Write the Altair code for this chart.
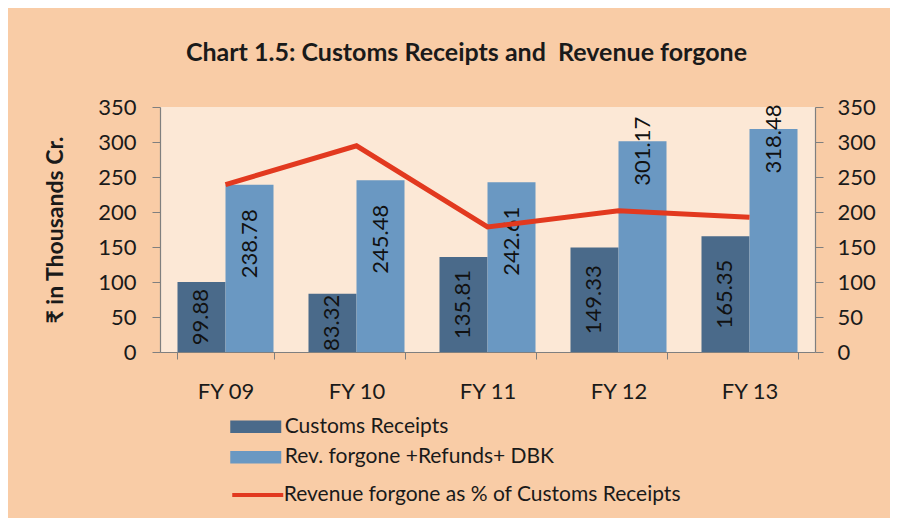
import altair as alt
import pandas as pd

years = ["FY 09", "FY 10", "FY 11", "FY 12", "FY 13"]
customs = [99.88, 83.32, 135.81, 149.33, 165.35]
forgone = [238.78, 245.48, 242.61, 301.17, 318.48]
pct = [239.1, 294.6, 178.6, 201.7, 192.6]
series = ["Customs Receipts", "Rev. forgone +Refunds+ DBK"]
line_name = "Revenue forgone as % of Customs Receipts"
title_text = "Chart 1.5: Customs Receipts and\u00a0 Revenue forgone"
y_title = "₹ in Thousands Cr."
y_ticks = [0, 50, 100, 150, 200, 250, 300, 350]

FONT = "Lato"
bars_df = pd.DataFrame(
    [{"fy": y, "series": series[0], "value": v} for y, v in zip(years, customs)]
    + [{"fy": y, "series": series[1], "value": v} for y, v in zip(years, forgone)]
)
line_df = pd.DataFrame({"fy": years, "pct": pct, "name": line_name})

x_enc = alt.X(
    "fy:N",
    sort=years,
    scale=alt.Scale(paddingInner=0.267, paddingOuter=0.1335),
    axis=alt.Axis(
        title=None, labelAngle=0, labelFontSize=22, labelFont=FONT, labelColor="#1a1a1a",
        tickBand="extent", tickSize=7, tickColor="#7f7f7f", domainColor="#7f7f7f",
        labelPadding=22, domainWidth=1.2,
    ),
)
xoff = alt.XOffset("series:N", sort=series, scale=alt.Scale(paddingInner=0, paddingOuter=0))
y_scale = alt.Scale(domain=[0, 350])
y_axis = alt.Axis(
    values=y_ticks, grid=False, labelOverlap=False,
    labelFontSize=22, labelFont=FONT, labelColor="#1a1a1a", labelPadding=16,
    tickSize=8, tickColor="#7f7f7f", domainColor="#7f7f7f", domainWidth=1.2,
    titleFont=FONT, titleFontSize=23, titleFontWeight="bold",
    titleColor="#1a1a1a", titlePadding=30,
)

bars = alt.Chart(bars_df).mark_bar().encode(
    x=x_enc,
    xOffset=xoff,
    y=alt.Y("value:Q", scale=y_scale, title=y_title, axis=y_axis),
    color=alt.Color(
        "series:N",
        scale=alt.Scale(domain=series, range=["#4A6A8A", "#6A98C2"]),
        legend=alt.Legend(
            title=None, orient="none", legendX=82.75, legendY=306.75,
            symbolType="M-2,-0.5H2V0.5H-2Z", symbolSize=650, symbolStrokeWidth=0,
            symbolOpacity=1, labelOffset=16, rowPadding=7.5, padding=0,
            labelFont=FONT, labelFontSize=21, labelColor="#1a1a1a", labelLimit=600,
        ),
    ),
)

lab_dark = alt.Chart(bars_df).transform_filter(
    alt.datum.series == series[0]
).transform_calculate(mid="datum.value / 2").mark_text(
    angle=270, align="center", baseline="middle", font=FONT, fontSize=22, color="#111"
).encode(
    x=alt.X("fy:N", sort=years),
    xOffset=xoff,
    y=alt.Y("mid:Q", scale=y_scale, title=y_title, axis=y_axis),
    text=alt.Text("value:Q", format=".2f"),
)

lab_light = alt.Chart(bars_df).transform_filter(
    alt.datum.series == series[1]
).transform_calculate(top="datum.value < 300 ? datum.value - 35 : datum.value + 35").mark_text(
    angle=270, align="right", baseline="middle", font=FONT, fontSize=22, color="#111", clip=False
).encode(
    x=alt.X("fy:N", sort=years),
    xOffset=xoff,
    y=alt.Y("top:Q", scale=y_scale, title=y_title, axis=y_axis),
    text=alt.Text("value:Q", format=".2f"),
)

left = alt.layer(bars, lab_dark, lab_light)

line = alt.Chart(line_df).mark_line(strokeWidth=5).encode(
    x=alt.X("fy:N", sort=years),
    y=alt.Y(
        "pct:Q", scale=alt.Scale(domain=[0, 350]),
        axis=alt.Axis(
            orient="right", values=y_ticks, grid=False, title=None, labelOverlap=False,
            labelFontSize=22, labelFont=FONT, labelColor="#1a1a1a", labelPadding=14,
            tickSize=8, tickColor="#7f7f7f", domainColor="#7f7f7f", domainWidth=1.2,
        ),
    ),
    stroke=alt.Stroke(
        "name:N",
        scale=alt.Scale(domain=[line_name], range=["#E2391F"]),
        legend=alt.Legend(
            title=None, orient="none", legendX=82.75, legendY=373,
            symbolType="M-2,0H2", symbolSize=650, symbolStrokeWidth=4,
            labelOffset=11, padding=0,
            labelFont=FONT, labelFontSize=21, labelColor="#1a1a1a", labelLimit=600,
        ),
    ),
)

chart = alt.layer(left, line).resolve_scale(y="independent", color="independent", stroke="independent").properties(
    width=655, height=245,
    autosize=alt.AutoSizeParams(type="none"),
    padding={"left": 152, "top": 99, "right": 75, "bottom": 166},
    background="#F9CCA6",
    title=alt.TitleParams(
        title_text,
        font=FONT, fontSize=25, fontWeight="bold", color="#1a1a1a",
        anchor="middle", dx=-21, offset=30,
    ),
).configure_view(fill="#FCE8D6", stroke=None)

chart.save("out.html", embed_options={"renderer": "svg", "actions": False})
